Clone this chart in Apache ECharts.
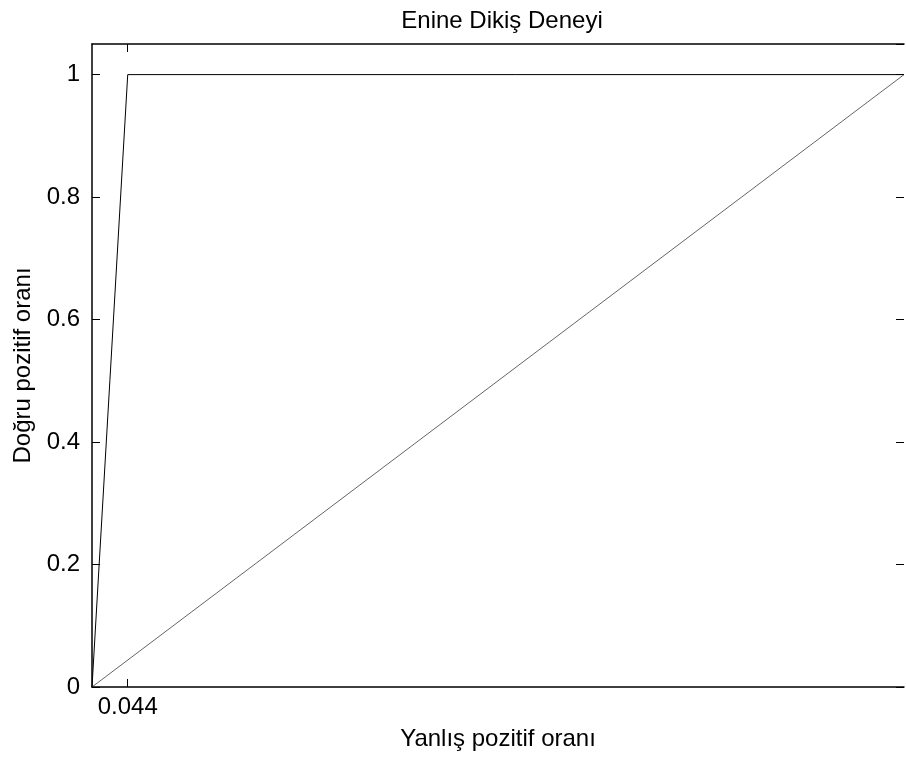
<!DOCTYPE html>
<html>
<head>
<meta charset="utf-8">
<script src="https://cdn.jsdelivr.net/npm/echarts@6/dist/echarts.min.js"></script>
<style>
  html, body { margin: 0; padding: 0; background: #fff; }
  #roc { width: 906px; height: 760px; }
</style>
</head>
<body>
<div id="roc"></div>
<script>
// ROC egrisi verisi
const fpr = [0, 0.044, 1];
const tpr = [0, 1, 1];
const diagX = [0, 1];
const diagY = [0, 1];
const xTicks = [0.044];

const font = 'Liberation Sans, Arial, sans-serif';
const chart = echarts.init(document.getElementById('roc'));

const option = {
    backgroundColor: '#fff',
    animation: false,
    title: {
        text: 'Enine Dikiş Deneyi',
        left: 497, top: 4, textAlign: 'center',
        textStyle: { fontFamily: font, fontSize: 24, fontWeight: 'normal', color: '#000' }
    },
    grid: { left: 92, top: 44, right: 2, bottom: 73 },
    xAxis: [
        {
            type: 'value', min: 0, max: 1, position: 'bottom',
            name: 'Yanlış pozitif oranı', nameLocation: 'middle', nameGap: 40,
            nameTextStyle: { fontFamily: font, fontSize: 24, color: '#000' },
            axisLine: { onZero: false, lineStyle: { color: '#000', width: 1.5 } },
            axisTick: { inside: true, length: 8, customValues: xTicks, lineStyle: { color: '#000' } },
            axisLabel: { customValues: xTicks, margin: 8, fontFamily: font, fontSize: 24, color: '#000' },
            splitLine: { show: false }
        },
        {
            type: 'value', min: 0, max: 1, position: 'top',
            axisLine: { onZero: false, lineStyle: { color: '#000', width: 1.5 } },
            axisTick: { inside: true, length: 8, customValues: xTicks, lineStyle: { color: '#000' } },
            axisLabel: { show: false },
            splitLine: { show: false }
        }
    ],
    yAxis: [
        {
            type: 'value', min: 0, max: 1.05, interval: 0.2, position: 'left',
            name: 'Doğru pozitif oranı', nameLocation: 'middle', nameGap: 47,
            nameTextStyle: { fontFamily: font, fontSize: 24, color: '#000' },
            axisLine: { onZero: false, lineStyle: { color: '#000', width: 1.5 } },
            axisTick: { inside: true, length: 8, lineStyle: { color: '#000' } },
            axisLabel: { showMaxLabel: false, margin: 12, fontFamily: font, fontSize: 24, color: '#000' },
            splitLine: { show: false }
        },
        {
            type: 'value', min: 0, max: 1.05, interval: 0.2, position: 'right',
            axisLine: { show: false, onZero: false },
            axisTick: { inside: true, length: 8, lineStyle: { color: '#000' } },
            axisLabel: { show: false },
            splitLine: { show: false }
        }
    ],
    series: [
        {
            type: 'line', symbol: 'none', xAxisIndex: 0, yAxisIndex: 0,
            data: fpr.map((x, i) => [x, tpr[i]]),
            lineStyle: { color: '#000', width: 1 }
        },
        {
            type: 'line', symbol: 'none', xAxisIndex: 0, yAxisIndex: 0,
            data: diagX.map((x, i) => [x, diagY[i]]),
            lineStyle: { color: '#222', width: 0.7 }
        }
    ]
};
chart.setOption(option);
</script>
</body>
</html>
